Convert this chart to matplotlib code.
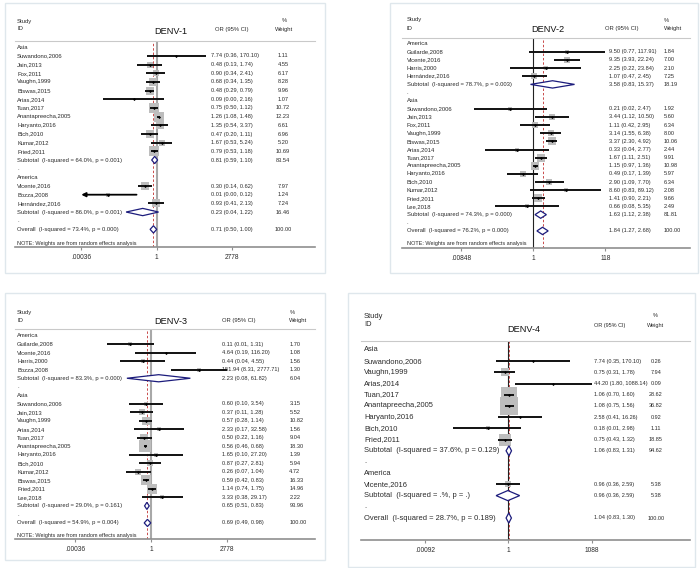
import matplotlib
matplotlib.use("Agg")
import matplotlib.pyplot as plt
import matplotlib.transforms as mtransforms
from matplotlib.patches import Rectangle
import numpy as np

plt.rcParams["font.family"] = ["Liberation Sans", "DejaVu Sans"]

W, H = 700, 568

# ======================= DATA =======================
# ---- DENV-1 ----
d1_group_names = ["Asia", "America"]
d1_asia_study = ["Suwandono,2006", "Jain,2013", "Fox,2011", "Vaughn,1999", "Biswas,2015", "Arias,2014",
                 "Tuan,2017", "Anantapreecha,2005", "Haryanto,2016", "Bich,2010", "Kumar,2012", "Fried,2011"]
d1_asia_or = [7.74, 0.48, 0.90, 0.68, 0.48, 0.09, 0.75, 1.26, 1.35, 0.47, 1.67, 0.79]
d1_asia_lo = [0.36, 0.13, 0.34, 0.34, 0.29, 0.0036, 0.50, 1.08, 0.54, 0.20, 0.53, 0.53]
d1_asia_hi = [170.10, 1.74, 2.41, 1.35, 0.79, 2.16, 1.12, 1.48, 3.37, 1.11, 5.24, 1.18]
d1_asia_w = [1.11, 4.55, 6.17, 8.28, 9.96, 1.07, 10.72, 12.23, 6.61, 6.96, 5.20, 10.69]
d1_america_study = ["Vicente,2016", "Bozza,2008", "Hernández,2016"]
d1_america_or = [0.30, 0.006, 0.93]
d1_america_lo = [0.14, 0.0001, 0.41]
d1_america_hi = [0.62, 0.12, 2.13]
d1_america_w = [7.97, 1.24, 7.24]
d1_sub_or = [0.81, 0.23]
d1_sub_lo = [0.59, 0.04]
d1_sub_hi = [1.10, 1.22]
d1_sub_w = [83.54, 16.46]
d1_sub_i2 = ["64.0%", "86.0%"]
d1_sub_p = ["0.001", "0.001"]
d1_overall = [0.71, 0.50, 1.00, 100.00]
d1_overall_i2, d1_overall_p = "73.4%", "0.000"
d1_ticks = [0.00036, 1, 2778]
d1_ticklabels = [".00036", "1", "2778"]

# ---- DENV-2 ----
d2_group_names = ["America", "Asia"]
d2_america_study = ["Guilarde,2008", "Vicente,2016", "Harris,2000", "Hernández,2016"]
d2_america_or = [9.50, 9.35, 2.25, 1.07]
d2_america_lo = [0.77, 3.93, 0.22, 0.47]
d2_america_hi = [117.91, 22.24, 23.84, 2.45]
d2_america_w = [1.84, 7.00, 2.10, 7.25]
d2_asia_study = ["Suwandono,2006", "Jain,2013", "Fox,2011", "Vaughn,1999", "Biswas,2015", "Arias,2014",
                 "Tuan,2017", "Anantapreecha,2005", "Haryanto,2016", "Bich,2010", "Kumar,2012",
                 "Fried,2011", "Lee,2018"]
d2_asia_or = [0.21, 3.44, 1.11, 3.14, 3.37, 0.33, 1.67, 1.15, 0.49, 2.90, 8.60, 1.41, 0.66]
d2_asia_lo = [0.02, 1.12, 0.42, 1.55, 2.30, 0.04, 1.11, 0.97, 0.17, 1.09, 0.83, 0.90, 0.08]
d2_asia_hi = [2.47, 10.50, 2.95, 6.38, 4.92, 2.77, 2.51, 1.36, 1.39, 7.70, 89.12, 2.21, 5.35]
d2_asia_w = [1.92, 5.60, 6.34, 8.00, 10.06, 2.44, 9.91, 10.98, 5.97, 6.34, 2.08, 9.66, 2.49]
d2_sub_or = [3.58, 1.63]
d2_sub_lo = [0.83, 1.12]
d2_sub_hi = [15.37, 2.38]
d2_sub_w = [18.19, 81.81]
d2_sub_i2 = ["78.7%", "74.3%"]
d2_sub_p = ["0.003", "0.000"]
d2_overall = [1.84, 1.27, 2.68, 100.00]
d2_overall_i2, d2_overall_p = "76.2%", "0.000"
d2_ticks = [0.00848, 1, 118]
d2_ticklabels = [".00848", "1", "118"]

# ---- DENV-3 ----
d3_group_names = ["America", "Asia"]
d3_america_study = ["Guilarde,2008", "Vicente,2016", "Harris,2000", "Bozza,2008"]
d3_america_or = [0.11, 4.64, 0.44, 151.94]
d3_america_lo = [0.01, 0.19, 0.04, 8.31]
d3_america_hi = [1.31, 116.20, 4.55, 2777.71]
d3_america_w = [1.70, 1.08, 1.56, 1.30]
d3_asia_study = ["Suwandono,2006", "Jain,2013", "Vaughn,1999", "Arias,2014", "Tuan,2017",
                 "Anantapreecha,2005", "Haryanto,2016", "Bich,2010", "Kumar,2012", "Biswas,2015",
                 "Fried,2011", "Lee,2018"]
d3_asia_or = [0.60, 0.37, 0.57, 2.33, 0.50, 0.56, 1.65, 0.87, 0.26, 0.59, 1.14, 3.33]
d3_asia_lo = [0.10, 0.11, 0.28, 0.17, 0.22, 0.46, 0.10, 0.27, 0.07, 0.42, 0.74, 0.38]
d3_asia_hi = [3.54, 1.28, 1.14, 32.58, 1.16, 0.68, 27.20, 2.81, 1.04, 0.83, 1.75, 29.17]
d3_asia_w = [3.15, 5.52, 10.82, 1.56, 9.04, 18.30, 1.39, 5.94, 4.72, 16.33, 14.96, 2.22]
d3_sub_or = [2.23, 0.65]
d3_sub_lo = [0.08, 0.51]
d3_sub_hi = [61.82, 0.83]
d3_sub_w = [6.04, 93.96]
d3_sub_i2 = ["83.3%", "29.0%"]
d3_sub_p = ["0.000", "0.161"]
d3_overall = [0.69, 0.49, 0.98, 100.00]
d3_overall_i2, d3_overall_p = "54.9%", "0.004"
d3_ticks = [0.00036, 1, 2778]
d3_ticklabels = [".00036", "1", "2778"]

# ---- DENV-4 ----
d4_group_names = ["Asia", "America"]
d4_asia_study = ["Suwandono,2006", "Vaughn,1999", "Arias,2014", "Tuan,2017", "Anantapreecha,2005",
                 "Haryanto,2016", "Bich,2010", "Fried,2011"]
d4_asia_or = [7.74, 0.75, 44.20, 1.06, 1.08, 2.58, 0.18, 0.75]
d4_asia_lo = [0.35, 0.31, 1.80, 0.70, 0.75, 0.41, 0.01, 0.43]
d4_asia_hi = [170.10, 1.78, 1088.14, 1.60, 1.56, 16.26, 2.98, 1.32]
d4_asia_w = [0.26, 7.94, 0.09, 28.62, 36.82, 0.92, 1.11, 18.85]
d4_america_study = ["Vicente,2016"]
d4_america_or = [0.96]
d4_america_lo = [0.36]
d4_america_hi = [2.59]
d4_america_w = [5.38]
d4_sub_or = [1.06, 0.96]
d4_sub_lo = [0.83, 0.36]
d4_sub_hi = [1.31, 2.59]
d4_sub_w = [94.62, 5.38]
d4_sub_i2 = ["37.6%", ".%"]
d4_sub_p = ["0.129", "."]
d4_overall = [1.04, 0.83, 1.30, 100.00]
d4_overall_i2, d4_overall_p = "28.7%", "0.189"
d4_ticks = [0.00092, 1, 1088]
d4_ticklabels = [".00092", "1", "1088"]

titles = ["DENV-1", "DENV-2", "DENV-3", "DENV-4"]
note_text = "NOTE: Weights are from random effects analysis"


def build(group_names, groups, sub_or, sub_lo, sub_hi, sub_w, sub_i2, sub_p, overall, ov_i2, ov_p):
    rows = []
    for gi, gname in enumerate(group_names):
        rows.append(("group", gname))
        names, o, l, h, w = groups[gi]
        for k in range(len(names)):
            rows.append(("study", names[k], o[k], l[k], h[k], w[k]))
        rows.append(("sub", f"Subtotal  (I-squared = {sub_i2[gi]}, p = {sub_p[gi]})",
                     sub_or[gi], sub_lo[gi], sub_hi[gi], sub_w[gi]))
        rows.append(("blank", "."))
    rows.append(("sub", f"Overall  (I-squared = {ov_i2}, p = {ov_p})",
                 overall[0], overall[1], overall[2], overall[3]))
    return rows


panels_rows = [
    build(d1_group_names,
          [(d1_asia_study, d1_asia_or, d1_asia_lo, d1_asia_hi, d1_asia_w),
           (d1_america_study, d1_america_or, d1_america_lo, d1_america_hi, d1_america_w)],
          d1_sub_or, d1_sub_lo, d1_sub_hi, d1_sub_w, d1_sub_i2, d1_sub_p, d1_overall, d1_overall_i2, d1_overall_p),
    build(d2_group_names,
          [(d2_america_study, d2_america_or, d2_america_lo, d2_america_hi, d2_america_w),
           (d2_asia_study, d2_asia_or, d2_asia_lo, d2_asia_hi, d2_asia_w)],
          d2_sub_or, d2_sub_lo, d2_sub_hi, d2_sub_w, d2_sub_i2, d2_sub_p, d2_overall, d2_overall_i2, d2_overall_p),
    build(d3_group_names,
          [(d3_america_study, d3_america_or, d3_america_lo, d3_america_hi, d3_america_w),
           (d3_asia_study, d3_asia_or, d3_asia_lo, d3_asia_hi, d3_asia_w)],
          d3_sub_or, d3_sub_lo, d3_sub_hi, d3_sub_w, d3_sub_i2, d3_sub_p, d3_overall, d3_overall_i2, d3_overall_p),
    build(d4_group_names,
          [(d4_asia_study, d4_asia_or, d4_asia_lo, d4_asia_hi, d4_asia_w),
           (d4_america_study, d4_america_or, d4_america_lo, d4_america_hi, d4_america_w)],
          d4_sub_or, d4_sub_lo, d4_sub_hi, d4_sub_w, d4_sub_i2, d4_sub_p, d4_overall, d4_overall_i2, d4_overall_p),
]
panels_overall = [d1_overall[0], d2_overall[0], d3_overall[0], d4_overall[0]]
panels_ticks = [(d1_ticks, d1_ticklabels), (d2_ticks, d2_ticklabels),
                (d3_ticks, d3_ticklabels), (d4_ticks, d4_ticklabels)]

# ======================= LAYOUT (pixels) =======================
layouts = [
    dict(box=(5, 3, 325, 273), axis_x=(15, 315), header_y=40.7, axis_y=247.3, row0=47.3, pitch=8.67,
         one_px=156.7, ppd=21.9, label_x=17, or_x=211, or_ha="left", w_x=283, w_ha="center",
         lab_fs=4.2, num_fs=4.1, k=2.8, dh=0.42, ref_color="#a8a8a8", ref_lw=1.5, note_y=243,
         hdr=[("Study", 17, 21, "left", 4.2), ("ID", 17, 29, "left", 4.2),
              ("OR (95% CI)", 215, 29, "left", 4.2), ("%", 284, 21, "center", 4.2),
              ("Weight", 284, 29, "center", 4.2)],
         title=(171, 31)),
    dict(box=(390, 3, 698, 273), axis_x=(402, 690), header_y=37.7, axis_y=248.3, row0=43.7, pitch=8.14,
         one_px=533.3, ppd=34.75, label_x=406.7, or_x=609.3, or_ha="left", w_x=664, w_ha="left",
         lab_fs=4.2, num_fs=4.1, k=2.4, dh=0.45, ref_color="#222222", ref_lw=0.8, note_y=243.7,
         hdr=[("Study", 406.7, 20, "left", 4.2), ("ID", 406.7, 28.3, "left", 4.2),
              ("OR (95% CI)", 605, 28.3, "left", 4.2), ("%", 664, 20, "left", 4.2),
              ("Weight", 664, 28.3, "left", 4.2)],
         title=(548.3, 29.3)),
    dict(box=(5, 293, 325, 560), axis_x=(15, 315), header_y=329.3, axis_y=539, row0=335.7, pitch=8.51,
         one_px=151, ppd=21.97, label_x=17, or_x=221.7, or_ha="left", w_x=289.3, w_ha="left",
         lab_fs=4.2, num_fs=4.1, k=2.7, dh=0.42, ref_color="#a8a8a8", ref_lw=1.5, note_y=535.3,
         hdr=[("Study", 17, 312.3, "left", 4.2), ("ID", 17, 320.7, "left", 4.2),
              ("OR (95% CI)", 221.7, 320.7, "left", 4.2), ("%", 289.3, 312.3, "left", 4.2),
              ("Weight", 289.3, 320.7, "left", 4.2)],
         title=(170.7, 322)),
    dict(box=(348, 293, 695, 567), axis_x=(361, 690), header_y=341.3, axis_y=540, row0=350, pitch=11.2,
         one_px=508.3, ppd=27.46, label_x=364, or_x=594.3, or_ha="left", w_x=655.7, w_ha="center",
         lab_fs=5.4, num_fs=4.0, k=2.9, dh=0.45, ref_color="#222222", ref_lw=0.8, note_y=None,
         hdr=[("Study", 364, 316.7, "left", 5.4), ("ID", 364, 324.7, "left", 5.4),
              ("OR (95% CI)", 594.3, 325.7, "left", 4.0), ("%", 655.7, 315.7, "center", 4.0),
              ("Weight", 655.7, 325.7, "center", 4.0)],
         title=(523.3, 330)),
]

TEXT = "#2a2a2a"
NAVY = "#1c1c7c"
BOXC = "#bdbdbd"
REDC = "#c94a4a"


def fx(px):
    return px / W


def fy(py):
    return 1 - py / H


fig = plt.figure(figsize=(W / 100, H / 100), dpi=100)
fig.patch.set_facecolor("white")

for pi in range(4):
    rows = panels_rows[pi]
    L = layouts[pi]
    ticks, ticklabels = panels_ticks[pi]

    x0, y0, x1, y1 = L["box"]
    fig.patches.append(Rectangle((fx(x0), fy(y1)), (x1 - x0) / W, (y1 - y0) / H,
                                 transform=fig.transFigure, fill=False, ec="#dfe7ec", lw=1.0))

    axl, axr = L["axis_x"]
    hy, ay = L["header_y"], L["axis_y"]
    ax = fig.add_axes([fx(axl), fy(ay), (axr - axl) / W, (ay - hy) / H])
    ax.set_facecolor("none")
    # x axis is expressed in log10(OR) units (linear axis showing a log scale)
    ax.set_xlim((axl - L["one_px"]) / L["ppd"], (axr - L["one_px"]) / L["ppd"])
    r0, pitch = L["row0"], L["pitch"]
    ax.set_ylim((ay - r0) / pitch, -(r0 - hy) / pitch)
    ax.set_autoscale_on(False)

    for s in ["left", "right"]:
        ax.spines[s].set_visible(False)
    ax.spines["top"].set_color("#c9c9c9")
    ax.spines["top"].set_linewidth(0.8)
    ax.spines["bottom"].set_color("#8f8f8f")
    ax.spines["bottom"].set_linewidth(1.2)
    ax.set_xticks(np.log10(ticks))
    ax.set_xticklabels(ticklabels)
    ax.tick_params(axis="x", which="major", length=2.2, width=0.8, color="#8f8f8f",
                   labelsize=4.8, pad=2.6, labelcolor=TEXT)
    ax.tick_params(axis="y", left=False, labelleft=False)

    ax.axvline(0.0, color=L["ref_color"], lw=L["ref_lw"], zorder=1.5)
    ax.axvline(np.log10(panels_overall[pi]), color=REDC, lw=0.7, ls=(0, (2.5, 2)), zorder=1.6)

    trans = mtransforms.blended_transform_factory(fig.transFigure, ax.transData)
    lo_clip, hi_clip = np.log10(ticks[0]), np.log10(ticks[-1])

    for ri, r in enumerate(rows):
        kind = r[0]
        ax.text(fx(L["label_x"]), ri, r[1], transform=trans, ha="left", va="center",
                fontsize=L["lab_fs"], color=TEXT, clip_on=False)
        if kind in ("study", "sub"):
            o, lo, hi, w = r[2], r[3], r[4], r[5]
            ax.text(fx(L["or_x"]), ri, f"{o:.2f} ({lo:.2f}, {hi:.2f})", transform=trans,
                    ha=L["or_ha"], va="center", fontsize=L["num_fs"], color=TEXT, clip_on=False)
            ax.text(fx(L["w_x"]), ri, f"{w:.2f}", transform=trans,
                    ha=L["w_ha"], va="center", fontsize=L["num_fs"], color=TEXT, clip_on=False)
            lo_l, o_l, hi_l = np.log10(lo), np.log10(o), np.log10(hi)
        if kind == "study":
            side_pt = L["k"] * np.sqrt(w) * 0.72
            ax.scatter([o_l], [ri], marker="s", s=side_pt ** 2, color=BOXC, lw=0, zorder=2)
            if lo_l < lo_clip:
                ax.annotate("", xy=(lo_clip, ri), xytext=(hi_l, ri),
                            arrowprops=dict(arrowstyle="-|>", color="black", lw=1.3,
                                            mutation_scale=6, shrinkA=0, shrinkB=0), zorder=3)
            else:
                ax.hlines(ri, lo_l, min(hi_l, hi_clip + 0.01), colors="#111111",
                          linewidth=1.4, zorder=3)
            ax.scatter([o_l], [ri], marker="D", s=2.5, color="black", lw=0, zorder=4)
        elif kind == "sub":
            dh = L["dh"]
            ax.fill([lo_l, o_l, hi_l, o_l], [ri, ri - dh, ri, ri + dh], facecolor="white",
                    edgecolor=NAVY, lw=0.9, zorder=5)

    if L["note_y"] is not None:
        fig.text(fx(L["label_x"]), fy(L["note_y"]), note_text, ha="left", va="center",
                 fontsize=4.0, color=TEXT)

    for tx_, px, py, ha, fs in L["hdr"]:
        fig.text(fx(px), fy(py), tx_, ha=ha, va="center", fontsize=fs, color=TEXT)
    tx, ty = L["title"]
    fig.text(fx(tx), fy(ty), titles[pi], ha="center", va="center", fontsize=6.6, color="#111111")

fig.savefig("out.png", dpi=100, facecolor="white")
